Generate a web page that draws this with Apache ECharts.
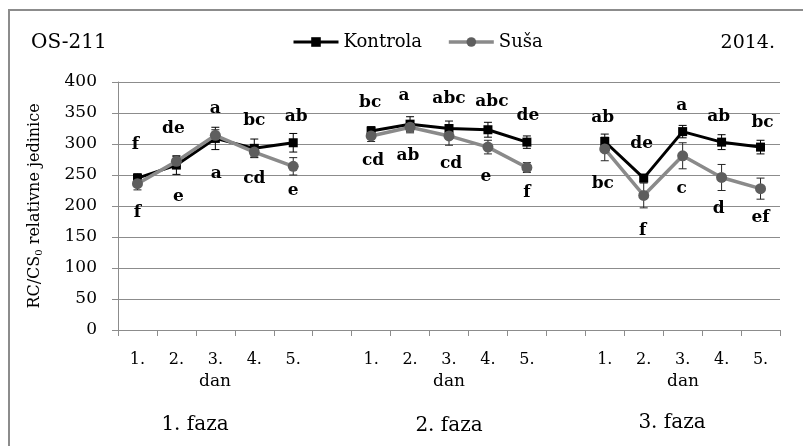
<!DOCTYPE html>
<html>
<head>
<meta charset="utf-8">
<script src="https://cdn.jsdelivr.net/npm/echarts@6/dist/echarts.min.js"></script>
<style>
html,body{margin:0;padding:0;background:#fff;}
#chart{width:803px;height:446px;}
</style>
</head>
<body>
<div id="chart"></div>
<script>
// ---- data ----
var categories = ['1.','2.','3.','4.','5.','', '1.','2.','3.','4.','5.','', '1.','2.','3.','4.','5.'];
var kontrola    = [245, 266, 309, 293, 302, null, 321, 332, 325, 323, 303, null, 304, 245, 320, 303, 295];
var kontrolaErr = [7, 15, 18, 15, 15, null, 7, 12, 12, 12, 10, null, 12, 6, 10, 12, 11];
var susa        = [236, 272, 314, 287, 264, null, 313, 327, 313, 295, 262, null, 292, 217, 281, 246, 228];
var susaErr     = [10, 8, 9, 8, 14, null, 9, 9, 15, 11, 8, null, 19, 20, 21, 21, 17];
var kontrolaLetters = ['f','de','a','bc','ab','', 'bc','a','abc','abc','de','', 'ab','de','a','ab','bc'];
var susaLetters     = ['f','e','a','cd','e','', 'cd','ab','cd','e','f','', 'bc','f','c','d','ef'];
var yTicks = [0, 50, 100, 150, 200, 250, 300, 350, 400];

// ---- label placement (pixel offsets, style only) ----
var kLabDx = [-2,-3,0,0,3,0,-1,-6,0,4,1,0,-2,-2,-1,-3,2];
var kLabDy = [-34,-37,-30,-28,-26,0,-28,-29,-30,-28,-27,0,-24,-35,-26,-26,-25];
var sLabDx = [0,2,1,0,0,0,2,-2,2,-2,0,0,-2,-1,-1,-3,0];
var sLabDy = [29,35,38,27,24,0,25,28,28,29,25,0,35,35,33,31,29];

var serif = 'DejaVu Serif';

function lineData(vals, letters, dx, dy) {
  return vals.map(function (v, i) {
    if (v === null) return null;
    return {
      value: v,
      label: {
        show: true, position: 'inside', formatter: letters[i],
        offset: [dx[i], dy[i]],
        fontFamily: serif, fontWeight: 'bold', fontSize: 17, color: '#000'
      }
    };
  });
}
function errData(vals, errs) {
  var out = [];
  vals.forEach(function (v, i) { if (v !== null) out.push([i, v, errs[i]]); });
  return out;
}
function errRender(color) {
  return function (params, api) {
    var i = api.value(0), v = api.value(1), e = api.value(2);
    var hi = api.coord([i, v + e]);
    var lo = api.coord([i, v - e]);
    var w = 4;
    var st = { stroke: color, lineWidth: 1 };
    return {
      type: 'group',
      children: [
        { type: 'line', shape: { x1: hi[0], y1: hi[1], x2: lo[0], y2: lo[1] }, style: st },
        { type: 'line', shape: { x1: hi[0] - w, y1: hi[1], x2: hi[0] + w, y2: hi[1] }, style: st },
        { type: 'line', shape: { x1: lo[0] - w, y1: lo[1], x2: lo[0] + w, y2: lo[1] }, style: st }
      ]
    };
  };
}

var chart = echarts.init(document.getElementById('chart'), null, { renderer: 'canvas' });
chart.setOption({
  backgroundColor: '#fff',
  animation: false,
  grid: { left: 118, right: 23, top: 82, bottom: 116, containLabel: false },
  legend: {
    left: 292, top: 33, padding: 0, itemWidth: 45, itemHeight: 12, itemGap: 25,
    textStyle: { fontFamily: serif, fontSize: 18, color: '#000' },
    data: [
      { name: 'Kontrola', lineStyle: { width: 3 } },
      { name: 'Suša', lineStyle: { width: 3.5 } }
    ]
  },
  xAxis: {
    type: 'category', data: categories, boundaryGap: true,
    axisLine: { lineStyle: { color: '#8c8c8c', width: 1 } },
    axisTick: { show: true, interval: 0, length: 6, lineStyle: { color: '#8c8c8c' } },
    axisLabel: { interval: 0, margin: 22, fontFamily: serif, fontSize: 16, color: '#000' },
    splitLine: { show: false }
  },
  yAxis: {
    type: 'value', min: yTicks[0], max: yTicks[yTicks.length - 1], interval: yTicks[1] - yTicks[0],
    name: 'RC/CS{s|0} relativne jedinice',
    nameLocation: 'middle', nameGap: 74, nameRotate: 90,
    nameTextStyle: {
      fontFamily: serif, fontSize: 16, color: '#000',
      rich: { s: { fontFamily: serif, fontSize: 10, color: '#000', verticalAlign: 'bottom', padding: [8, 0, 0, 0] } }
    },
    axisLine: { show: true, lineStyle: { color: '#8c8c8c', width: 1 } },
    axisTick: { show: true, length: 6, lineStyle: { color: '#8c8c8c' } },
    axisLabel: { margin: 21, fontFamily: serif, fontSize: 17, color: '#000' },
    splitLine: { show: true, lineStyle: { color: '#8c8c8c', width: 1 } }
  },
  series: [
    {
      type: 'custom', name: 'errK', renderItem: errRender('#000'), data: errData(kontrola, kontrolaErr),
      z: 1, silent: true, encode: { x: 0, y: 1 }
    },
    {
      type: 'custom', name: 'errS', renderItem: errRender('#262626'), data: errData(susa, susaErr),
      z: 1, silent: true, encode: { x: 0, y: 1 }
    },
    {
      type: 'line', name: 'Kontrola', data: lineData(kontrola, kontrolaLetters, kLabDx, kLabDy),
      connectNulls: false, symbol: 'rect', symbolSize: 9, showAllSymbol: true,
      itemStyle: { color: '#000' }, lineStyle: { color: '#000', width: 3 }, z: 2
    },
    {
      type: 'line', name: 'Suša', data: lineData(susa, susaLetters, sLabDx, sLabDy),
      connectNulls: false, symbol: 'circle', symbolSize: 11, showAllSymbol: true,
      itemStyle: { color: '#5e5e5e' }, lineStyle: { color: '#8a8a8a', width: 3.5 }, z: 3
    }
  ],
  graphic: [
    { type: 'rect', shape: { x: 9, y: 10, width: 820, height: 460 }, style: { fill: 'none', stroke: '#8c8c8c', lineWidth: 2 }, silent: true, z: -1 },
    { type: 'text', x: 31, y: 43, style: { text: 'OS-211', font: '20px "DejaVu Serif"', fill: '#000', textVerticalAlign: 'middle', textAlign: 'left' } },
    { type: 'text', x: 775, y: 43, style: { text: '2014.', font: '19px "DejaVu Serif"', fill: '#000', textVerticalAlign: 'middle', textAlign: 'right' } },
    { type: 'text', x: 215, y: 382, style: { text: 'dan', font: '17px "DejaVu Serif"', fill: '#000', textVerticalAlign: 'middle', textAlign: 'center' } },
    { type: 'text', x: 449, y: 382, style: { text: 'dan', font: '17px "DejaVu Serif"', fill: '#000', textVerticalAlign: 'middle', textAlign: 'center' } },
    { type: 'text', x: 683, y: 382, style: { text: 'dan', font: '17px "DejaVu Serif"', fill: '#000', textVerticalAlign: 'middle', textAlign: 'center' } },
    { type: 'text', x: 195, y: 425, style: { text: '1. faza', font: '20px "DejaVu Serif"', fill: '#000', textVerticalAlign: 'middle', textAlign: 'center' } },
    { type: 'text', x: 449, y: 426, style: { text: '2. faza', font: '20px "DejaVu Serif"', fill: '#000', textVerticalAlign: 'middle', textAlign: 'center' } },
    { type: 'text', x: 672, y: 423, style: { text: '3. faza', font: '20px "DejaVu Serif"', fill: '#000', textVerticalAlign: 'middle', textAlign: 'center' } }
  ]
});
</script>
</body>
</html>
